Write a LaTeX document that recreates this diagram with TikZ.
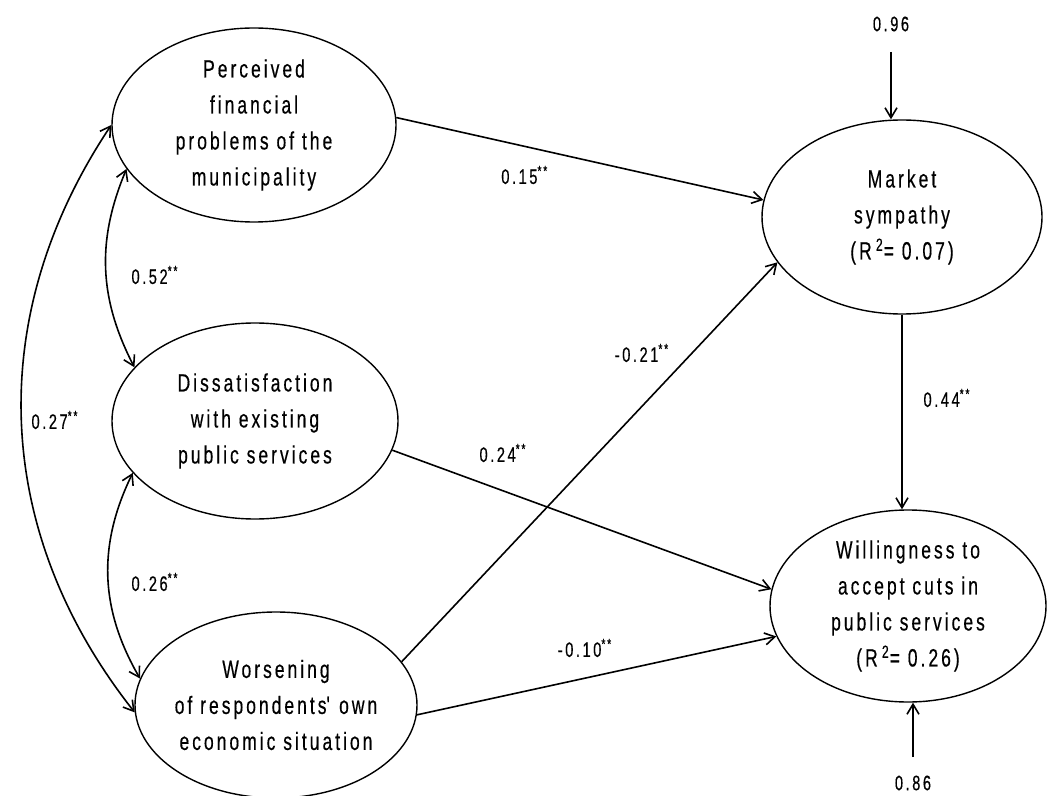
\documentclass[tikz,border=0pt]{standalone}
\usepackage{fontspec}
\setmainfont{Liberation Sans}[FakeStretch=0.7,LetterSpace=12,FakeBold=0.4]
\usetikzlibrary{shapes.geometric,arrows.meta}
\begin{document}
\begin{tikzpicture}[x=0.5pt,y=-0.5pt,
  latent/.style={ellipse, draw, line width=0.7pt, inner sep=0pt},
  txt/.style={align=center, font=\fontsize{12.5}{18}\selectfont},
  coef/.style={font=\fontsize{10.5}{12}\selectfont},
  arr/.style={line width=0.8pt, -{Straight Barb[length=5pt,width=6pt]}},
  dbl/.style={line width=0.8pt, {Straight Barb[length=5pt,width=6pt]}-{Straight Barb[length=5pt,width=6pt]}}]
\useasboundingbox (0,0) rectangle (1064,796);
\node[latent, minimum width=142pt, minimum height=97pt, label={[txt]center:Perceived\\financial\\problems of the\\municipality}] (per) at (254,125){};
\node[latent, minimum width=143pt, minimum height=98pt, label={[txt]center:Dissatisfaction\\with existing\\public services}] (dis) at (255,421){};
\node[latent, minimum width=141pt, minimum height=93pt, label={[txt]center:Worsening\\of respondents\textquotesingle\ own\\economic situation}] (wor) at (276,705){};
\node[latent, minimum width=140pt, minimum height=97pt, label={[txt]center:Market\\sympathy\\(R\,\textsuperscript{2}= 0.07)}] (mkt) at (902,217){};
\node[latent, minimum width=138pt, minimum height=96pt, label={[txt]center:Willingness to\\accept cuts in\\public services\\(R\,\textsuperscript{2}= 0.26)}] (wil) at (908,606){};
\node[coef] (res1) at (891,24){0.96};
\coordinate (res1s) at (891,52);
\draw[arr](res1s) -- (res1s |- mkt.north);
\node[coef] (res2) at (913,783){0.86};
\coordinate (res2s) at (913,757);
\draw[arr](res2s) -- (res2s |- wil.south);
\draw[arr](per.3) -- node[coef, pos=0.35, below=6pt]{0.15\textsuperscript{**}} (mkt.173);
\draw[arr](wor.19) -- (mkt.200);
\node[coef] (c21) at (642,353){-0.21\textsuperscript{**}};
\draw[arr](dis.348) -- (wil.173);
\node[coef] (c24) at (503,453){0.24\textsuperscript{**}};
\draw[arr](wor.356) -- (wil.193);
\node[coef] (c10) at (585,648){-0.10\textsuperscript{**}};
\draw[arr](mkt.south) -- (mkt.south |- wil.north);
\node[coef] (c44) at (947,398){0.44\textsuperscript{**}};
\draw[dbl](per.199) to[bend right=25] (dis.156);
\node[coef] (c52) at (155,275){0.52\textsuperscript{**}};
\draw[dbl](dis.203) to[bend right=28] (wor.169);
\node[coef] (c26) at (155,582){0.26\textsuperscript{**}};
\draw[dbl](per.180) to[bend right=36] (wor.183);
\node[coef] (c27) at (55,420){0.27\textsuperscript{**}};
\end{tikzpicture}
\end{document}
